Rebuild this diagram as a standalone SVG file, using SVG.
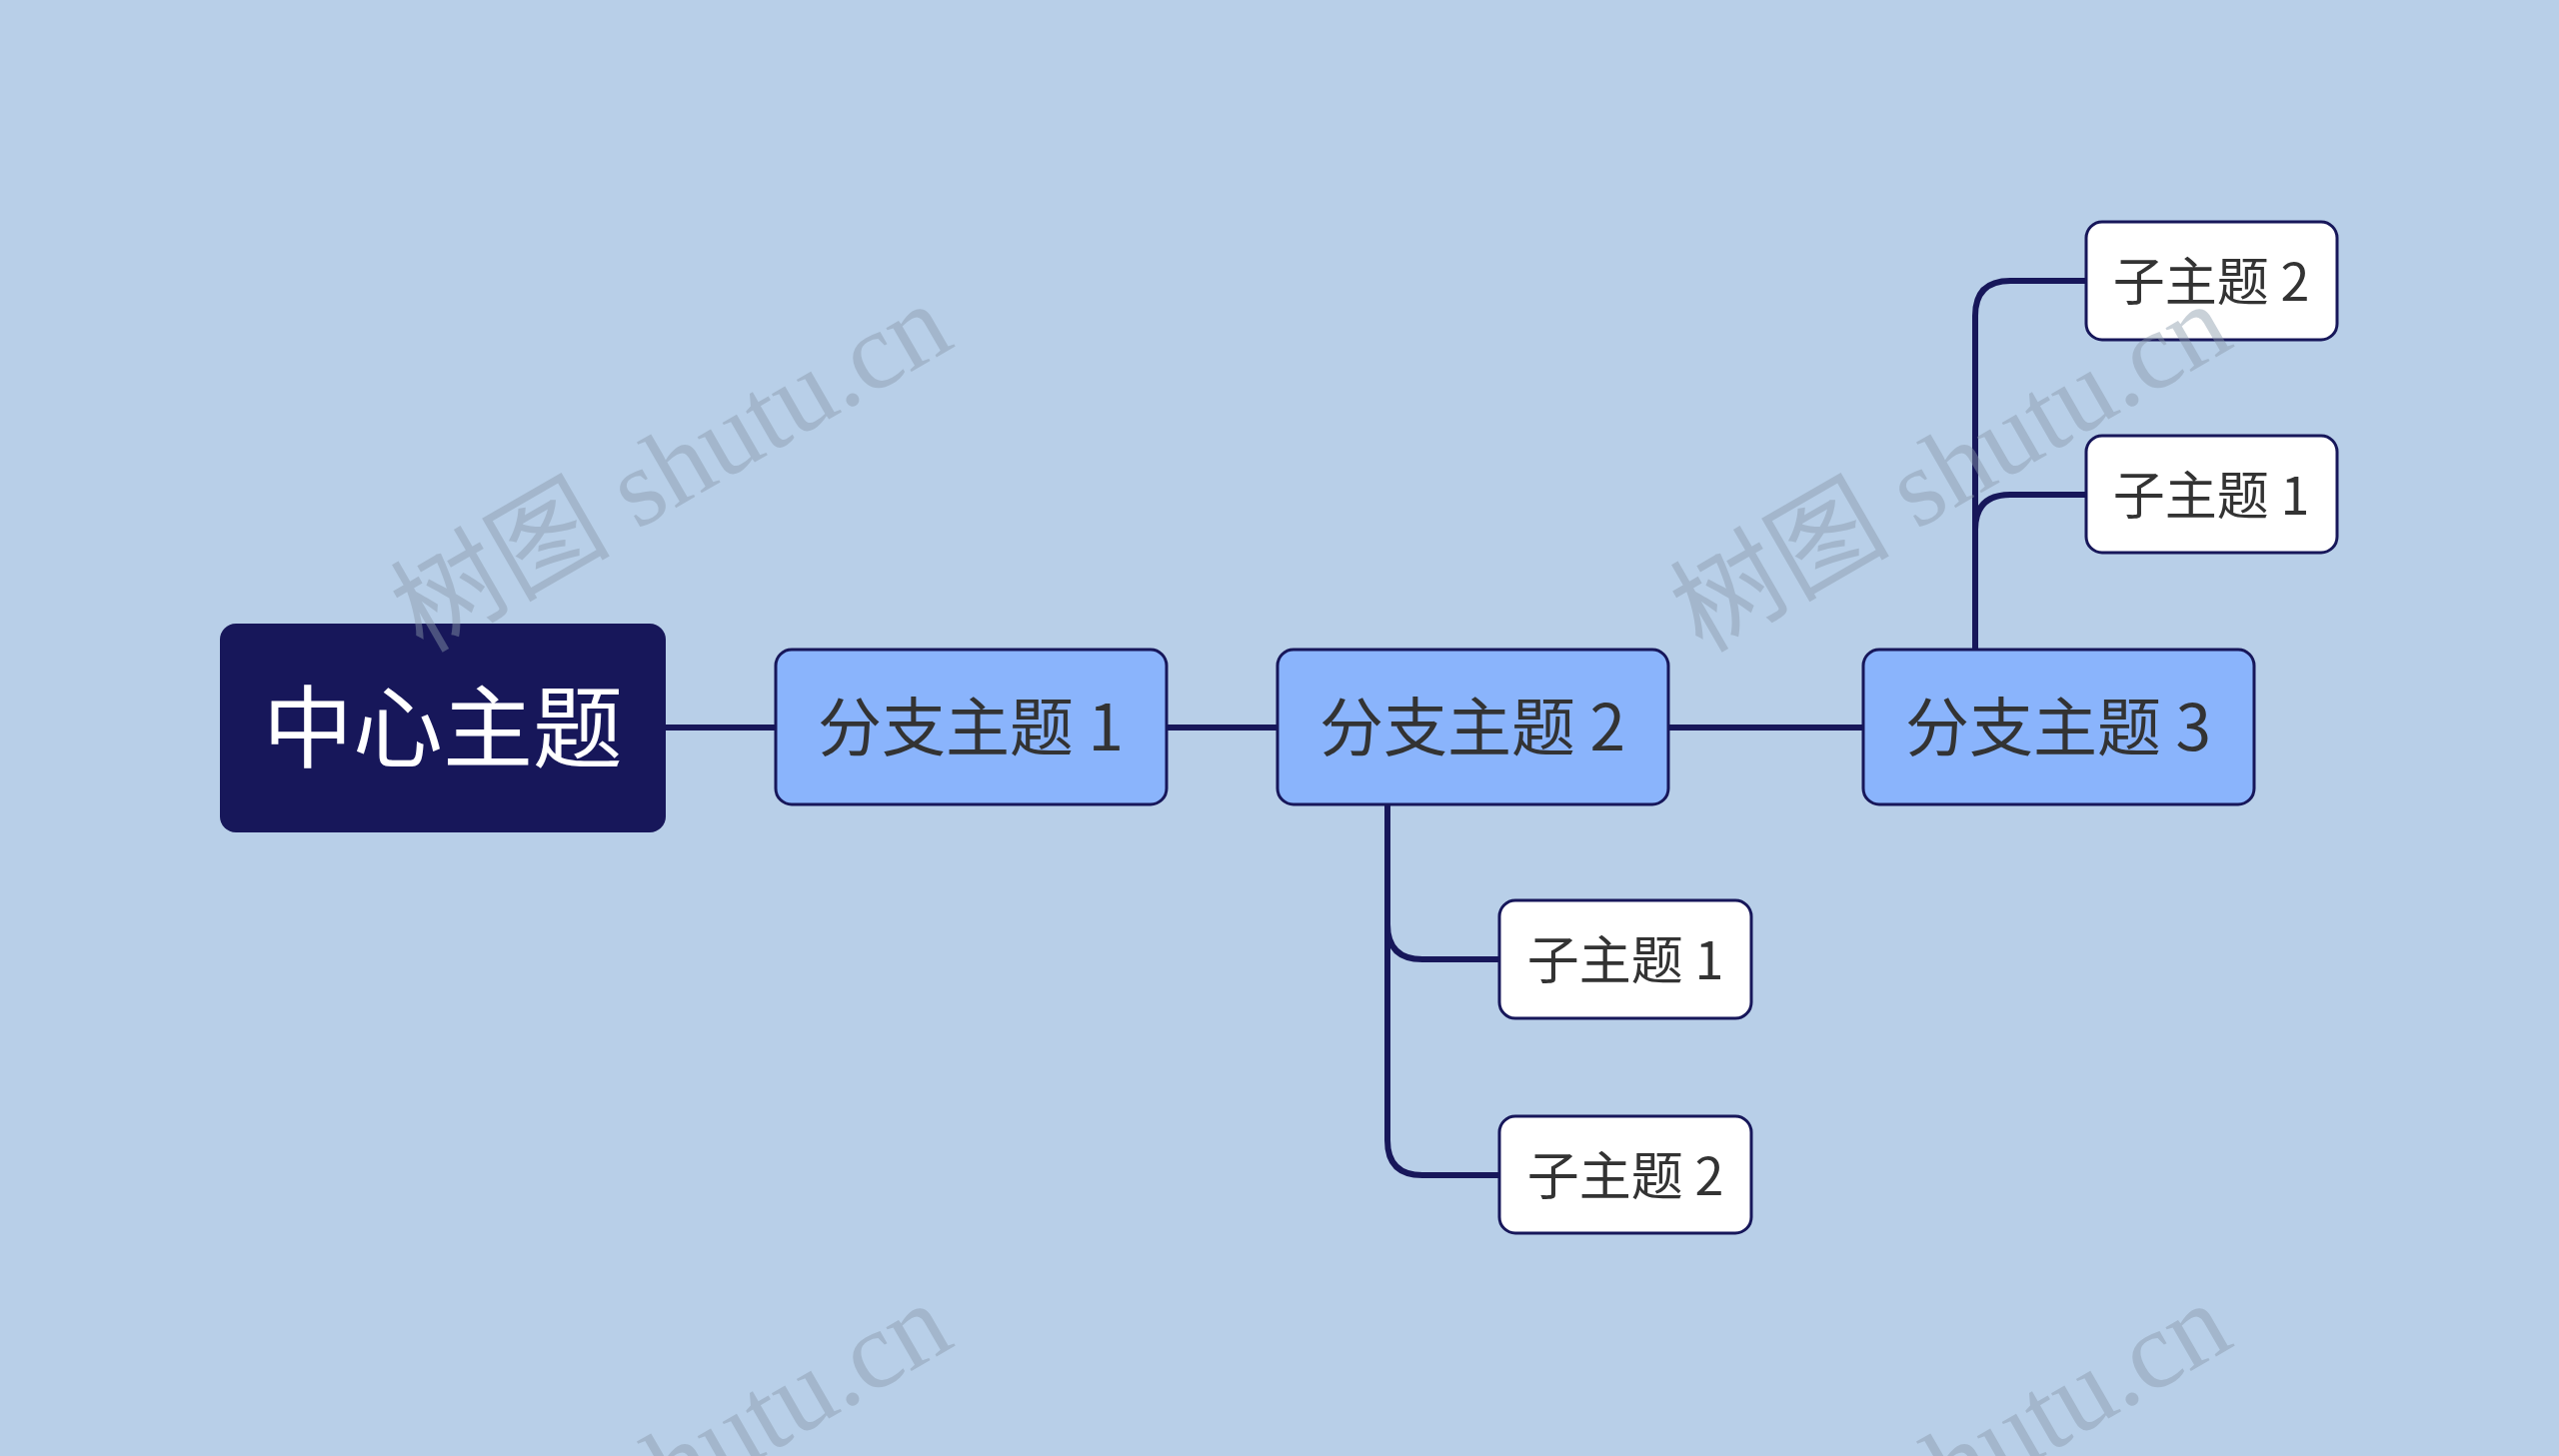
<svg xmlns="http://www.w3.org/2000/svg" width="2560" height="1457" viewBox="0 0 2560 1457">
<style>
.ln{fill:none;stroke:#17175a;stroke-width:6}
.br{fill:#8ab4fc;stroke:#17175a;stroke-width:3}
.sb{fill:#ffffff;stroke:#17175a;stroke-width:3}
.t{font-family:"Noto Sans CJK SC","Noto Sans",sans-serif;fill:#333;text-anchor:middle;dominant-baseline:central}
.wm{font-family:"Liberation Serif","Noto Sans CJK SC",serif;font-size:110px;fill:#8a9aab;opacity:0.45;text-anchor:middle}
</style>
<rect width="2560" height="1457" fill="#b8cfe8"/>
<g id="connectors">
<path class="ln" d="M666 728H776M1167 728H1278M1669 728H1864"/>
<path class="ln" d="M1388 805V925Q1388 960 1423 960H1500M1388 925V1141Q1388 1176 1423 1176H1500"/>
<path class="ln" d="M1976 650V530Q1976 495 2011 495H2087M1976 530V316Q1976 281 2011 281H2087"/>
</g>
<g id="center"><rect x="220" y="624" width="446" height="209" rx="16" fill="#17175a"/><text class="t" x="443" y="722" font-size="90">中心主题</text></g>
<g id="b1"><rect class="br" x="776" y="650" width="391" height="155" rx="16"/><text class="t" x="971" y="723" font-size="64">分支主题 1</text></g>
<g id="b2"><rect class="br" x="1278" y="650" width="391" height="155" rx="16"/><text class="t" x="1473" y="723" font-size="64">分支主题 2</text></g>
<g id="b3"><rect class="br" x="1864" y="650" width="391" height="155" rx="16"/><text class="t" x="2059" y="723" font-size="64">分支主题 3</text></g>
<g id="s21"><rect class="sb" x="1500" y="901" width="252" height="118" rx="16"/><text class="t" x="1626" y="957" font-size="52">子主题 1</text></g>
<g id="s22"><rect class="sb" x="1500" y="1117" width="252" height="117" rx="16"/><text class="t" x="1626" y="1173" font-size="52">子主题 2</text></g>
<g id="s32"><rect class="sb" x="2087" y="222" width="251" height="118" rx="16"/><text class="t" x="2212" y="278" font-size="52">子主题 2</text></g>
<g id="s31"><rect class="sb" x="2087" y="436" width="251" height="117" rx="16"/><text class="t" x="2212" y="492" font-size="52">子主题 1</text></g>
<g id="watermarks">
<text class="wm" transform="translate(690 500) rotate(-30)">树图 shutu.cn</text>
<text class="wm" transform="translate(1970 500) rotate(-30)">树图 shutu.cn</text>
<text class="wm" transform="translate(690 1500) rotate(-30)">树图 shutu.cn</text>
<text class="wm" transform="translate(1970 1500) rotate(-30)">树图 shutu.cn</text>
</g>
<style>#center text{fill:#fff}</style>
</svg>
